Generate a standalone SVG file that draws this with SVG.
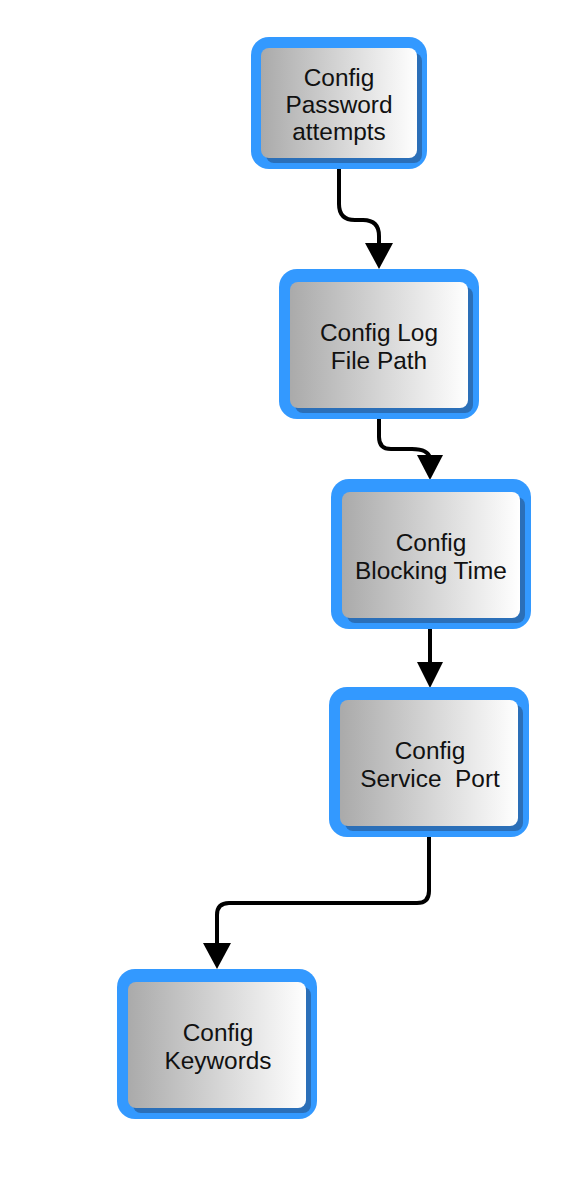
<svg xmlns="http://www.w3.org/2000/svg" width="582" height="1187" viewBox="0 0 582 1187">
<defs>
<linearGradient id="g" x1="0" y1="0" x2="1" y2="0">
<stop offset="0" stop-color="#aaaaaa"/>
<stop offset="1" stop-color="#ffffff"/>
</linearGradient>
</defs>
<style>
.outer{fill:#3399ff}
.shadow{fill:#2b6fb8}
.inner{fill:url(#g)}
.lbl{font-family:"Liberation Sans",Arial,sans-serif;font-size:24.4px;fill:#111;text-anchor:middle}
.edge{fill:none;stroke:#000;stroke-width:4}
.head{fill:#000}
</style>
<rect width="582" height="1187" fill="#ffffff"/>
<g id="connectors">
<path class="edge" d="M339 168 L339 204 Q339 220 355 220 L363 220 Q379 220 379 236 L379 246"/>
<polygon class="head" points="365,243 393,243 379,269"/>
<path class="edge" d="M379 418 L379 437 Q379 449 391 449 L412 449 Q428 449 430 458"/>
<polygon class="head" points="417,455 443,455 430,480"/>
<path class="edge" d="M430 628 L430 664"/>
<polygon class="head" points="417,662 443,662 430,688"/>
<path class="edge" d="M429 835 L429 891 Q429 903 417 903 L229 903 Q217 903 217 915 L217 946"/>
<polygon class="head" points="203,943 231,943 217,969"/>
</g>
<g id="node1">
<rect class="outer" x="251" y="37" width="176" height="132" rx="18"/>
<rect class="shadow" x="266" y="53" width="156" height="110" rx="8"/>
<rect class="inner" x="261" y="48" width="156" height="110" rx="8"/>
<text class="lbl" x="339" y="86">Config</text>
<text class="lbl" x="339" y="113">Password</text>
<text class="lbl" x="339" y="140">attempts</text>
</g>
<g id="node2">
<rect class="outer" x="279" y="269" width="200" height="150" rx="18"/>
<rect class="shadow" x="295" y="287" width="178" height="126" rx="8"/>
<rect class="inner" x="290" y="282" width="178" height="126" rx="8"/>
<text class="lbl" x="379" y="341">Config Log</text>
<text class="lbl" x="379" y="369">File Path</text>
</g>
<g id="node3">
<rect class="outer" x="331" y="479" width="200" height="150" rx="18"/>
<rect class="shadow" x="347" y="497" width="178" height="126" rx="8"/>
<rect class="inner" x="342" y="492" width="178" height="126" rx="8"/>
<text class="lbl" x="431" y="551">Config</text>
<text class="lbl" x="431" y="579">Blocking Time</text>
</g>
<g id="node4">
<rect class="outer" x="329" y="687" width="200" height="150" rx="18"/>
<rect class="shadow" x="345" y="705" width="178" height="126" rx="8"/>
<rect class="inner" x="340" y="700" width="178" height="126" rx="8"/>
<text class="lbl" x="430" y="759">Config</text>
<text class="lbl" x="430" y="787" xml:space="preserve">Service  Port</text>
</g>
<g id="node5">
<rect class="outer" x="117" y="969" width="200" height="150" rx="18"/>
<rect class="shadow" x="133" y="987" width="178" height="126" rx="8"/>
<rect class="inner" x="128" y="982" width="178" height="126" rx="8"/>
<text class="lbl" x="218" y="1041">Config</text>
<text class="lbl" x="218" y="1069">Keywords</text>
</g>
</svg>
